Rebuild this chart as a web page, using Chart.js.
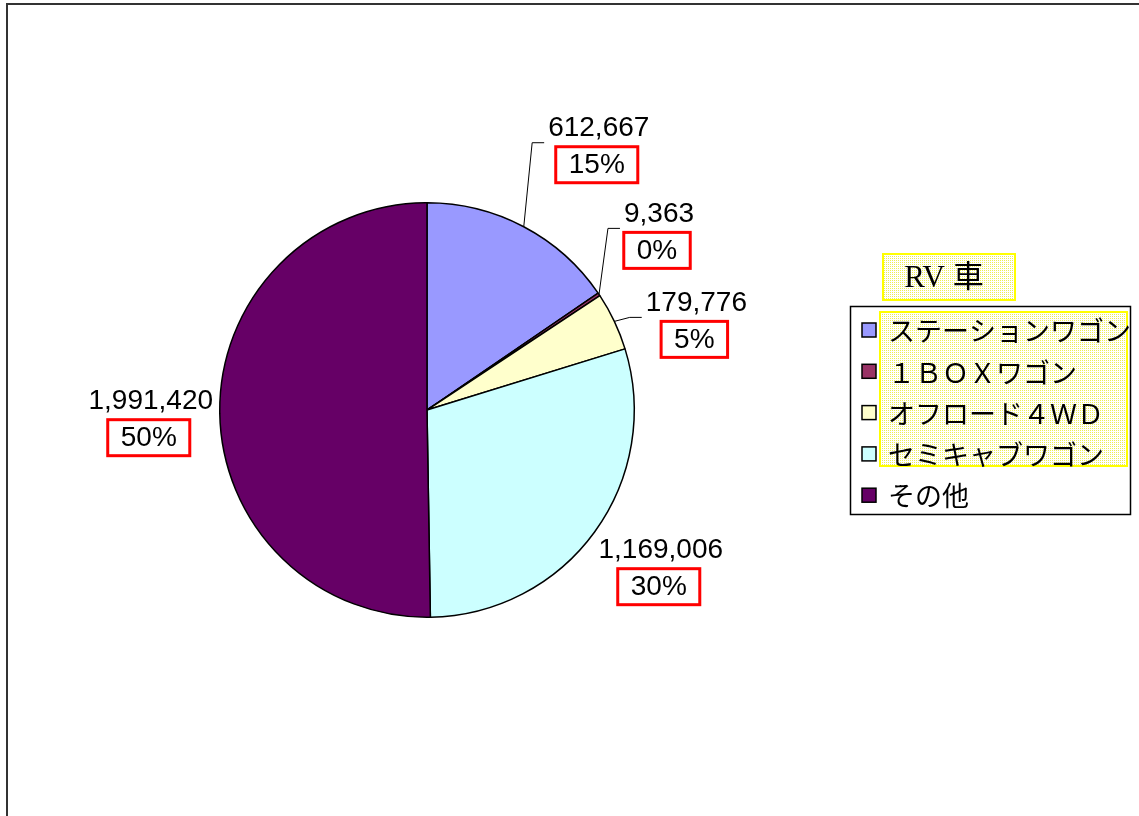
<!DOCTYPE html>
<html lang="ja">
<head>
<meta charset="UTF-8">
<title>RV 車</title>
<script src="https://cdn.jsdelivr.net/npm/chart.js@4.4.0/dist/chart.umd.min.js"></script>
<style>
    html, body { margin: 0; padding: 0; background: #fff; overflow: hidden; }
    #frame { position: absolute; left: 6px; top: 3px; width: 1200px; height: 900px; border: 2px solid #333; }
    #wrap { position: absolute; left: 0; top: 0; width: 1139px; height: 816px; }
</style>
</head>
<body>
<div id="frame"></div>
<div id="wrap"><canvas id="pieChart" width="1139" height="816"></canvas></div>
<script>
// Chart data
const chartTitle = 'RV 車';
const categories = ['ステーションワゴン', '１ＢＯＸワゴン', 'オフロード４ＷＤ', 'セミキャブワゴン', 'その他'];
const salesValues = [612667, 9363, 179776, 1169006, 1991420];
const sliceColors = ['#9999FF', '#993366', '#FFFFCC', '#CCFFFF', '#660066'];

// Label layout: offset of the percent box centre from the slice edge point
const labelOffsets = [[73, -62], [58, -44], [80, 18], [64, 55], [-71, 26]];
const hasLeader = [true, true, true, false, false];

const valueFont = '28px "Liberation Sans", Arial, sans-serif';
const legendFont = '27px "Noto Sans CJK JP", sans-serif';

function formatNumber(n) {
    return n.toLocaleString('en-US');
}

function makeDotPattern(ctx) {
    const c = document.createElement('canvas');
    c.width = 2;
    c.height = 2;
    const p = c.getContext('2d');
    p.fillStyle = '#ffffff';
    p.fillRect(0, 0, 2, 2);
    p.fillStyle = '#eeee55';
    p.fillRect(0, 0, 1, 1);
    return ctx.createPattern(c, 'repeat');
}

// Draws value / percent labels next to each slice
const sliceLabels = {
    id: 'sliceLabels',
    afterDraw(chart) {
        const ctx = chart.ctx;
        const meta = chart.getDatasetMeta(0);
        const total = salesValues.reduce((a, b) => a + b, 0);
        ctx.save();
        ctx.font = valueFont;
        ctx.textBaseline = 'middle';
        ctx.textAlign = 'center';
        meta.data.forEach((arc, i) => {
            const p = arc.getProps(['x', 'y', 'startAngle', 'endAngle', 'outerRadius'], true);
            const mid = (p.startAngle + p.endAngle) / 2;
            const ex = p.x + Math.cos(mid) * p.outerRadius;
            const ey = p.y + Math.sin(mid) * p.outerRadius;
            const cx = ex + labelOffsets[i][0];
            const cy = ey + labelOffsets[i][1];

            const pct = Math.round(salesValues[i] / total * 100) + '%';
            const val = formatNumber(salesValues[i]);
            const bw = ctx.measureText(pct).width + 26;
            const bh = 36;
            const left = cx - bw / 2;
            const top = cy - bh / 2;

            // leader line
            if (hasLeader[i]) {
                const valW = ctx.measureText(val).width;
                const endX = cx + 2 - valW / 2 - 4;
                const lineY = top - 4;
                ctx.strokeStyle = '#000';
                ctx.lineWidth = 1;
                ctx.beginPath();
                ctx.moveTo(ex, ey);
                ctx.lineTo(endX - 12, lineY);
                ctx.lineTo(endX, lineY);
                ctx.stroke();
            }

            ctx.fillStyle = '#fff';
            ctx.fillRect(left, top, bw, bh);
            ctx.strokeStyle = '#ff0000';
            ctx.lineWidth = 3;
            ctx.strokeRect(left, top, bw, bh);

            ctx.fillStyle = '#000';
            ctx.fillText(pct, cx, cy + 1);
            ctx.fillText(val, cx + 2, cy - 36);
        });
        ctx.restore();
    }
};

// Draws the legend box with its title
const boxLegend = {
    id: 'boxLegend',
    afterDraw(chart) {
        const ctx = chart.ctx;
        const dots = makeDotPattern(ctx);
        ctx.save();

        // title
        ctx.fillStyle = dots;
        ctx.fillRect(883, 254, 132, 46);
        ctx.strokeStyle = '#ffff00';
        ctx.lineWidth = 2;
        ctx.strokeRect(883, 254, 132, 46);
        ctx.fillStyle = '#000';
        ctx.font = '31px "Liberation Serif", "Noto Sans CJK JP", serif';
        ctx.textAlign = 'center';
        ctx.textBaseline = 'middle';
        ctx.fillText(chartTitle, 944, 279);

        // legend frame
        ctx.strokeStyle = '#000';
        ctx.lineWidth = 1.5;
        ctx.strokeRect(850.5, 306.5, 280, 208);

        // dotted highlight behind first entries
        ctx.fillStyle = dots;
        ctx.fillRect(880, 312, 247, 154);
        ctx.strokeStyle = '#ffff00';
        ctx.lineWidth = 2;
        ctx.strokeRect(880, 312, 247, 154);

        ctx.font = legendFont;
        ctx.textAlign = 'left';
        ctx.textBaseline = 'middle';
        categories.forEach((name, i) => {
            const y = 330 + i * 41.3;
            ctx.fillStyle = sliceColors[i];
            ctx.fillRect(862, y - 7, 14, 14);
            ctx.strokeStyle = '#000';
            ctx.lineWidth = 1.5;
            ctx.strokeRect(862, y - 7, 14, 14);
            ctx.fillStyle = '#000';
            ctx.fillText(name, 888, y + 1);
        });
        ctx.restore();
    }
};

function createChart() {
    const ctx = document.getElementById('pieChart').getContext('2d');
    return new Chart(ctx, {
        type: 'pie',
        data: {
            labels: categories,
            datasets: [{
                data: salesValues,
                backgroundColor: sliceColors,
                borderColor: '#000',
                borderWidth: 1.5,
                hoverOffset: 0
            }]
        },
        options: {
            responsive: false,
            animation: false,
            events: [],
            layout: {
                padding: { left: 219, top: 202, right: 504, bottom: 198 }
            },
            plugins: {
                legend: { display: false },
                tooltip: { enabled: false }
            }
        },
        plugins: [sliceLabels, boxLegend]
    });
}

createChart();
</script>
</body>
</html>
